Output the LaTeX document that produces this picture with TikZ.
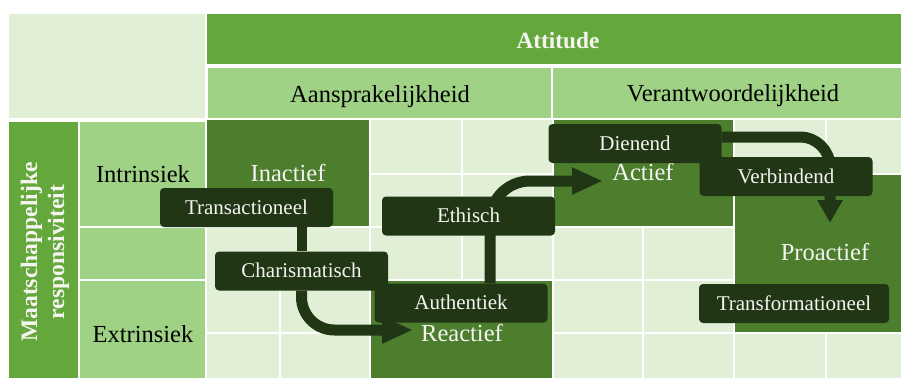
\documentclass[tikz,border=0pt]{standalone}
\usepackage{fontspec}
\setmainfont{Liberation Serif}
\usetikzlibrary{arrows.meta}
\definecolor{paleg}{HTML}{E0EFD6}
\definecolor{midg}{HTML}{A0D286}
\definecolor{headg}{HTML}{64A83C}
\definecolor{darkg}{HTML}{4C7E2E}
\definecolor{boxc}{HTML}{213615}
\definecolor{offwhite}{HTML}{F4F4F0}
\pgfdeclarelayer{cells}
\pgfdeclarelayer{links}
\pgfsetlayers{cells,links,main}
\begin{document}
\begin{tikzpicture}[x=1pt,y=-1pt,
  lbl/.style={font=\fontsize{24.5}{28}\selectfont, inner sep=0pt, anchor=base},
  wlbl/.style={lbl, text=offwhite},
  tag/.style={fill=boxc, rounded corners=4pt, text=offwhite,
    font=\fontsize{21}{24}\selectfont, minimum height=39pt,
    text height=13.5pt, text depth=0pt, inner sep=0pt, minimum width=173pt},
  flow/.style={draw=boxc, line width=11pt, -{Triangle[length=31pt,width=25pt]}},
  gridline/.style={white, line width=1.6pt}]
\useasboundingbox (0,0) rectangle (901,378);

\begin{pgfonlayer}{cells}
\fill[white] (0,0) rectangle (901,378);
% column headers
\fill[paleg] (9,14) rectangle (205,118);
\fill[headg] (207,14) rectangle (901,64);
\fill[midg] (208,68) rectangle (551,118);
\fill[midg] (553,68) rectangle (901,118);
% row headers
\fill[headg] (9,122) rectangle (78,378);
\fill[midg] (80,122) rectangle (205,378);
\draw[gridline] (80,227) -- (205,227) (80,280) -- (205,280);
% body cells
\fill[paleg] (207,120) rectangle (901,378);
\fill[darkg] (207,120) rectangle (370,227);
\fill[darkg] (553,120) rectangle (734,227);
\fill[darkg] (734,174) rectangle (901,333);
\fill[darkg] (370,280) rectangle (553,378);
\draw[gridline]
  (280,280) -- (280,378)
  (370,120) -- (370,378)
  (462,120) -- (462,280)
  (553,120) -- (553,378)
  (643,227) -- (643,378)
  (734,120) -- (734,378)
  (826,120) -- (826,174) (826,333) -- (826,378)
  (370,174) -- (553,174) (734,174) -- (901,174)
  (207,227) -- (734,227)
  (280,280) -- (734,280)
  (207,333) -- (370,333) (553,333) -- (901,333);
\end{pgfonlayer}

\node[lbl, text=offwhite, font=\fontsize{23.3}{26}\selectfont\bfseries] (att) at (558,48) {Attitude};
\node[lbl] (aans) at (380,102) {Aansprakelijkheid};
\node[lbl] (verant) at (733,101) {Verantwoordelijkheid};

\node[text=offwhite, font=\fontsize{23.6}{27}\selectfont\bfseries, align=center,
  rotate=90, inner sep=0pt] (resp) at (45,252) {Maatschappelijke\\responsiviteit};
\node[lbl] (intr) at (143,182) {Intrinsiek};
\node[lbl] (extr) at (143,342) {Extrinsiek};

\node[wlbl] (inactief) at (288,181) {Inactief};
\node[wlbl] (actief) at (643,180) {Actief};
\node[wlbl] (reactief) at (462,341) {Reactief};
\node[wlbl] (proactief) at (825,260) {Proactief};

% arrow tips
\coordinate (reTip) at (413,330);
\coordinate (acTip) at (603,181);
\coordinate (prTip) at (830,223);

% leadership styles
\node[tag] (trans) at (246.5,207.5) {Transactioneel};
\node[tag] (char) at (301.5,271) {Charismatisch};
\node[tag] (eth) at (468.5,216) {Ethisch};
\node[tag] (auth) at (461,303) {Authentiek};
\node[tag] (dien) at (635,143.5) {Dienend};
\node[tag] (verb) at (786,176.5) {Verbindend};
\node[tag, minimum width=190pt] (transf) at (794,303.5) {Transformationeel};

% connectors beneath the boxes
\begin{pgfonlayer}{links}
\draw[draw=boxc, line width=10pt] (trans.south -| char.north) -- (char.north);
\draw[flow, rounded corners=33pt] (char.south) |- (reTip);
\draw[flow, rounded corners=40pt] ([xshift=29pt]auth.north) |- (acTip);
\draw[flow, rounded corners=30pt, -{Triangle[length=23pt,width=24pt]}]
  ([yshift=6.5pt]dien.east) -| (prTip);
\end{pgfonlayer}
\end{tikzpicture}
\end{document}
